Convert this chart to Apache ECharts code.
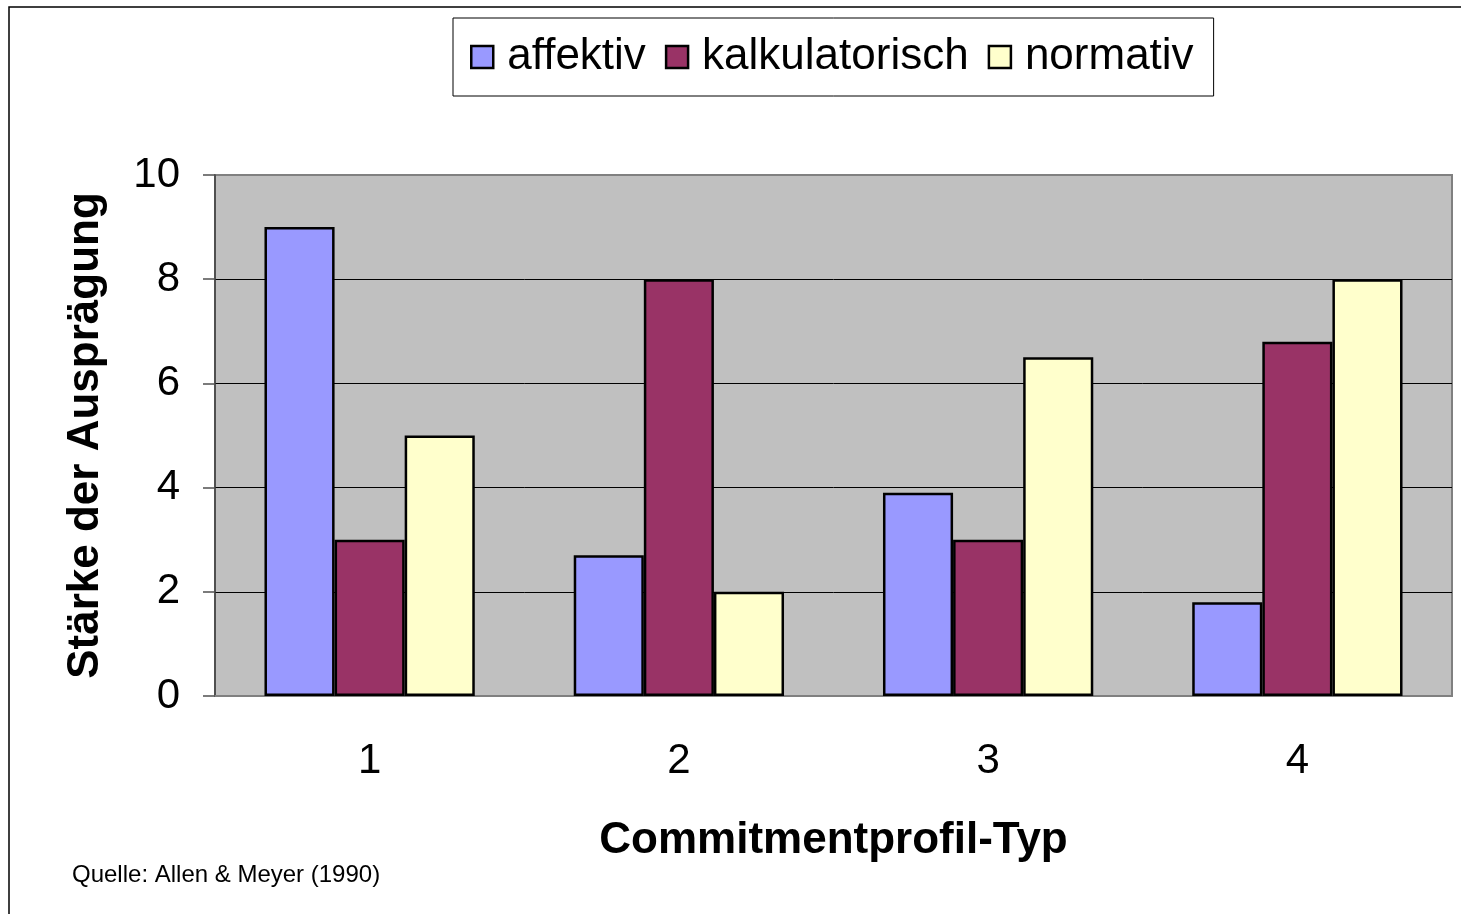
<!DOCTYPE html>
<html lang="de">
<head>
    <meta charset="UTF-8">
    <title>Commitmentprofile</title>
    <script src="https://cdn.jsdelivr.net/npm/echarts@6/dist/echarts.min.js"></script>
    <style>
        html, body { margin: 0; padding: 0; background: #fff; }
    </style>
</head>
<body>
    <div id="main" style="width:1461px;height:914px;"></div>
    <script type="text/javascript">
        // profile types on the x axis
        const categories = ['1', '2', '3', '4'];
        // values
        const affektiv = [9, 2.7, 3.9, 1.8];
        const kalkulatorisch = [3, 8, 3, 6.8];
        const normativ = [5, 2, 6.5, 8];
        const yTicks = [0, 2, 4, 6, 8, 10];

        const font = '"Liberation Sans", Arial, sans-serif';

        let myChart = echarts.init(document.getElementById('main'));

        function barSeries(name, data, color) {
            return {
                name: name,
                type: 'bar',
                data: data,
                barGap: '0%',
                barCategoryGap: '32%',
                itemStyle: { color: color, borderColor: '#000', borderWidth: 2.5 }
            };
        }

        let options = {
            backgroundColor: '#fff',
            textStyle: { fontFamily: font },
            legend: {
                left: 453,
                top: 18,
                padding: [17, 20, 17, 17],
                itemGap: 19,
                itemWidth: 22,
                itemHeight: 22,
                icon: 'rect',
                backgroundColor: '#fff',
                borderColor: '#000',
                borderWidth: 1,
                textStyle: { fontSize: 44, color: '#000', fontFamily: font, padding: [0, 0, 0, 9] },
                itemStyle: { borderColor: '#000', borderWidth: 2.5 }
            },
            grid: {
                left: 215,
                top: 175,
                right: 9,
                bottom: 218,
                show: true,
                backgroundColor: '#C0C0C0',
                borderColor: '#808080',
                borderWidth: 2
            },
            xAxis: {
                type: 'category',
                data: categories,
                name: 'Commitmentprofil-Typ',
                nameLocation: 'middle',
                nameGap: 123,
                nameTextStyle: { fontSize: 44, fontWeight: 'bold', color: '#000', fontFamily: font },
                axisLine: { lineStyle: { color: '#808080', width: 2 } },
                axisTick: { length: 12, lineStyle: { color: '#505050', width: 1.5 } },
                axisLabel: { fontSize: 42, color: '#000', margin: 44, fontFamily: font }
            },
            yAxis: {
                type: 'value',
                min: 0,
                max: 10,
                interval: 2,
                name: 'Stärke der Ausprägung',
                nameLocation: 'middle',
                nameGap: 107,
                nameTextStyle: { fontSize: 44, fontWeight: 'bold', color: '#000', fontFamily: font },
                axisLine: { show: true, lineStyle: { color: '#404040', width: 1.5 } },
                axisTick: { show: true, length: 12, lineStyle: { color: '#505050', width: 1.5 } },
                axisLabel: {
                    fontSize: 42, color: '#000', margin: 35, fontFamily: font,
                    formatter: (v) => yTicks.includes(v) ? String(v) : ''
                },
                splitLine: {
                    show: true,
                    lineStyle: { color: ['#808080', '#000', '#000', '#000', '#000', '#808080'], width: 1 }
                }
            },
            series: [
                barSeries('affektiv', affektiv, '#9999FF'),
                barSeries('kalkulatorisch', kalkulatorisch, '#993366'),
                barSeries('normativ', normativ, '#FFFFCC')
            ],
            graphic: [
                {
                    type: 'rect',
                    shape: { x: 9, y: 7, width: 1480, height: 940 },
                    style: { fill: 'none', stroke: '#000', lineWidth: 1.5 },
                    silent: true
                },
                {
                    type: 'text',
                    left: 72,
                    top: 863,
                    style: { text: 'Quelle: Allen & Meyer (1990)', fontSize: 24, fill: '#000', fontFamily: font }
                }
            ]
        };

        myChart.setOption(options);
    </script>
</body>
</html>
